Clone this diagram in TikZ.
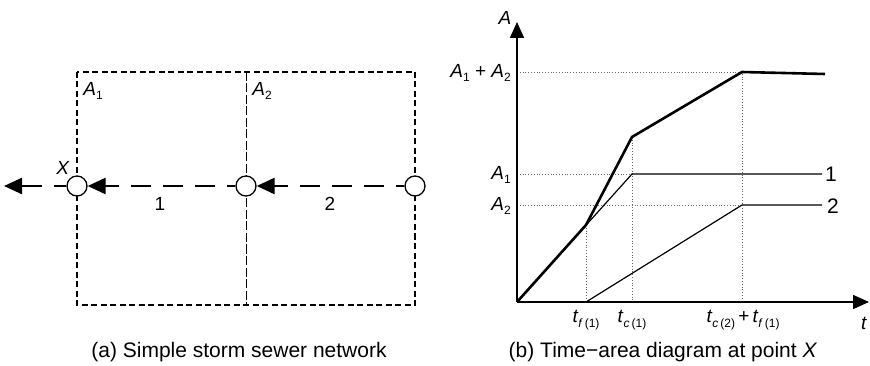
\documentclass[tikz,border=0pt]{standalone}
\usepackage{fontspec}
\setmainfont{Liberation Sans}
\usetikzlibrary{arrows.meta}
\newcommand{\sbs}[1]{\raisebox{-0.45ex}{\fontsize{12}{12}\selectfont #1}}
\newcommand{\itt}[1]{\textit{#1}}
\begin{document}
\begin{tikzpicture}[x=1pt,y=-1pt,
  lbl/.style={font=\fontsize{19}{19}\selectfont, inner sep=0pt},
  biglbl/.style={font=\fontsize{21}{21}\selectfont, inner sep=0pt},
  captxt/.style={font=\fontsize{21}{21}\selectfont, inner sep=0pt},
  boundary/.style={line width=1.3pt, dash pattern=on 6pt off 3.5pt},
  divider/.style={line width=0.9pt, dash pattern=on 9pt off 2.5pt},
  pipe/.style={line width=2.5pt, dash pattern=on 20pt off 12pt, dash phase=12pt, -{Triangle[length=18pt,width=16pt]}},
  inlet/.style={circle, draw, fill=white, line width=1.3pt, minimum size=20pt, inner sep=0pt},
  axisline/.style={line width=1.6pt, -{Triangle[length=16pt,width=14pt]}},
  curveone/.style={line width=1.2pt},
  curvesum/.style={line width=2.6pt, line join=miter},
  guide/.style={line width=0.8pt, dotted, gray!80!black}
]
\useasboundingbox (0,0) rectangle (870,366);

% ---------- (a) network ----------
\draw[boundary] (77,72) rectangle (415,305);
\draw[divider] (246,72) -- (246,305);
\node[inlet] (X) at (77,186) {};
\node[inlet] (M) at (246,186) {};
\node[inlet] (R) at (415,186) {};
\coordinate (out) at (4,186);
\draw[pipe] (R) -- (M);
\draw[pipe] (M) -- (X);
\draw[pipe, dash phase=8pt] (X) -- (out);
\node[lbl] (a1) at (93,91) {\itt{A}\sbs{1}};
\node[lbl] (a2) at (262,91) {\itt{A}\sbs{2}};
\node[lbl] (xl) at (63,168) {\itt{X}};
\node[lbl] (n1) at (160,204) {1};
\node[lbl] (n2) at (330,204) {2};
\node[captxt] (capa) at (239,352) {(a) Simple storm sewer network};

% ---------- (b) time-area diagram ----------
\coordinate (O) at (517,302);
\coordinate (ytop) at (517,22);
\coordinate (xend) at (869,302);
\coordinate (p1) at (586,225);
\coordinate (p2) at (632,137);
\coordinate (p3) at (742,72);
\coordinate (p4) at (825,74);
\coordinate (q1) at (632,174);
\coordinate (q2) at (822,174);
\coordinate (r0) at (586,302);
\coordinate (r1) at (742,205);
\coordinate (r2) at (822,205);

\draw[guide] (517,72) -- (p3) -- (742,302);
\draw[guide] (517,174) -- (q1);
\draw[guide] (p2) -- (632,302);
\draw[guide] (517,205) -- (r1);
\draw[guide] (p1) -- (586,302);

\draw[curveone] (O) -- (q1) -- (q2);
\draw[curveone] (r0) -- (r1) -- (r2);
\draw[curvesum] (O) -- (p1) -- (p2) -- (p3) -- (p4);

\draw[axisline] (O) -- (ytop);
\draw[axisline] (O) -- (xend);

\node[lbl] (la) at (505,18) {\itt{A}};
\node[lbl] (lt) at (864,323) {\itt{t}};
\node[lbl, anchor=east] (lsum) at (511,73) {\itt{A}\sbs{1} + \itt{A}\sbs{2}};
\node[lbl, anchor=east] (l1) at (511,175) {\itt{A}\sbs{1}};
\node[lbl, anchor=east] (l2) at (511,206) {\itt{A}\sbs{2}};
\node[biglbl] (c1) at (831,174) {1};
\node[biglbl] (c2) at (833,206) {2};
\node[lbl] (tf) at (586,320) {\itt{t}\sbs{\itt{f}\,(1)}};
\node[lbl] (tc) at (632,320) {\itt{t}\sbs{\itt{c}\,(1)}};
\node[lbl] (tcf) at (743,320) {\itt{t}\sbs{\itt{c}\,(2)}\,+\,\itt{t}\sbs{\itt{f}\,(1)}};
\node[captxt] (capb) at (663,352) {(b) Time\char"2212area diagram at point \itt{X}};
\end{tikzpicture}
\end{document}
